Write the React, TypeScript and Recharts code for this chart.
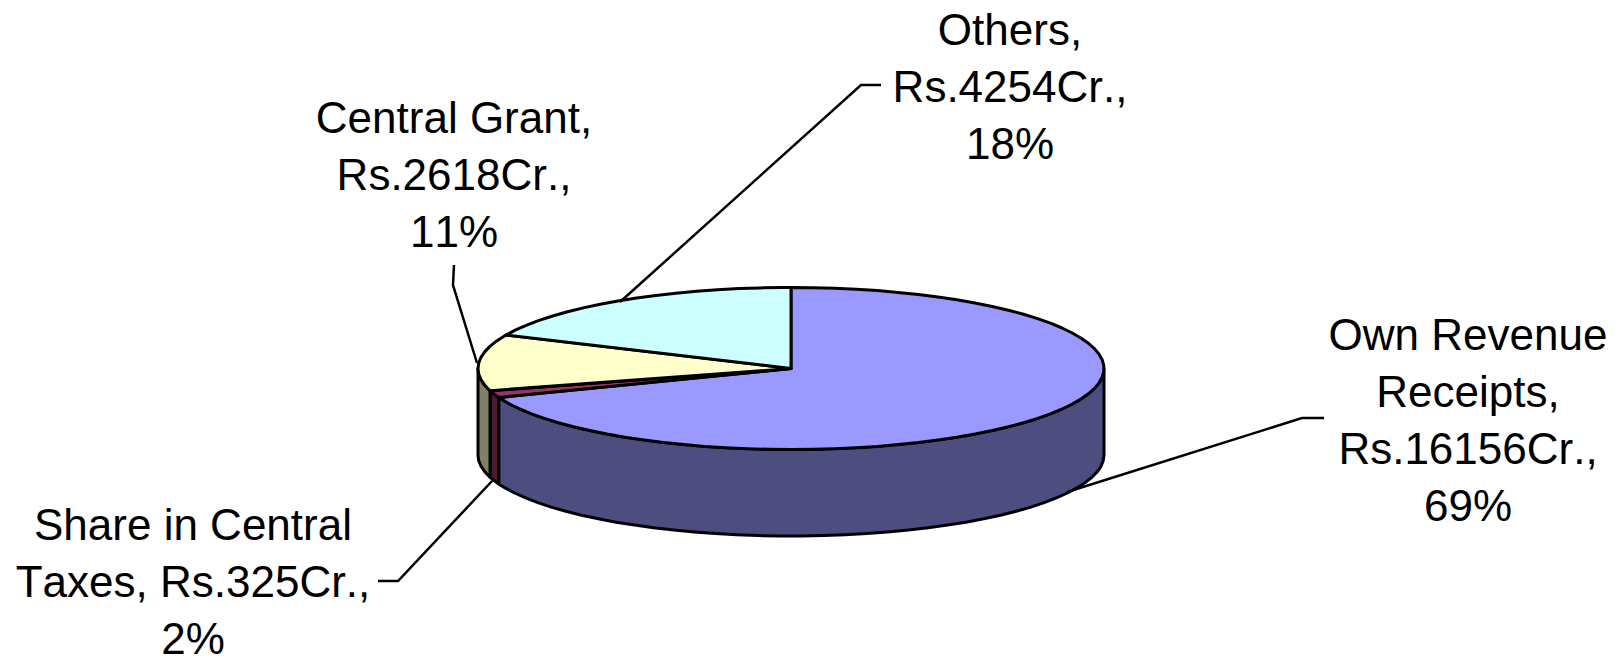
import React from 'react';
import { PieChart, Pie } from 'recharts';

const sliceNames = ['Own Revenue Receipts', 'Share in Central Taxes', 'Central Grant', 'Others'];
const sliceValues = [16156, 325, 2618, 4254];
const topColors = ['#9999FF', '#993366', '#FFFFCC', '#CCFFFF'];
const wallColors = ['#4D4D80', '#4D1A33', '#808066', '#668080'];

const labelLines = [
  ['Own Revenue', 'Receipts,', 'Rs.16156Cr.,', '69%'],
  ['Share in Central', 'Taxes, Rs.325Cr.,', '2%'],
  ['Central Grant,', 'Rs.2618Cr.,', '11%'],
  ['Others,', 'Rs.4254Cr.,', '18%'],
];

// label placement: centre x, first baseline, then the leader polyline
const labelAnchors = [
  { x: 1468, y: 350, leader: '1067,492 1302,418 1324,418' },
  { x: 193, y: 540, leader: '493,480 398,581 378,581' },
  { x: 454, y: 133, leader: '477,363 453,285 454,265' },
  { x: 1010, y: 45, leader: '620,302 861,85 881,85' },
];

const chartData = sliceNames.map((name, i) => ({ name, value: sliceValues[i], fill: topColors[i] }));

const WIDTH = 1619;
const HEIGHT = 658;
const CX = 791;
const CY = 368.5;
const RADIUS = 313;
const TILT = 81 / 313; // squash of the pie disc
const DEPTH = 86.5;
const LINE = 57;
const STEP = 4;

const toRad = (deg: number) => (deg * Math.PI) / 180;

// walk an arc of the squashed disc, from a to b (degrees, going clockwise)
const arcPoints = (cx: number, cy: number, r: number, a: number, b: number) => {
  const pts: [number, number][] = [];
  for (let d = a; d > b; d -= STEP) {
    pts.push([cx + r * Math.cos(toRad(d)), cy - r * TILT * Math.sin(toRad(d))]);
  }
  pts.push([cx + r * Math.cos(toRad(b)), cy - r * TILT * Math.sin(toRad(b))]);
  return pts;
};

const toPath = (pts: [number, number][]) =>
  pts.map((p, i) => `${i === 0 ? 'M' : 'L'}${p[0].toFixed(1)},${p[1].toFixed(1)}`).join(' ') + ' Z';

const TopSlice = (props: any) => {
  const { cx, cy, outerRadius, startAngle, endAngle, fill } = props;
  const pts = [[cx, cy] as [number, number], ...arcPoints(cx, cy, outerRadius, startAngle, endAngle)];
  return <path d={toPath(pts)} fill={fill} stroke="#000" strokeWidth={3} strokeLinejoin="round" />;
};

// only the part of a slice facing the viewer (angles 0 to -180) has a wall
const WallSlice = (props: any) => {
  const { cx, cy, outerRadius, startAngle, endAngle, index } = props;
  const from = Math.min(startAngle, 0);
  const to = Math.max(endAngle, -180);
  if (from <= to) return <g />;
  const upper = arcPoints(cx, cy, outerRadius, from, to);
  const lower = arcPoints(cx, cy + DEPTH, outerRadius, from, to).reverse();
  return (
    <path
      d={toPath([...upper, ...lower])}
      fill={wallColors[index]}
      stroke="#000"
      strokeWidth={3}
      strokeLinejoin="round"
    />
  );
};

const SliceLabel = (props: any) => {
  const { index } = props;
  const anchor = labelAnchors[index];
  return (
    <g>
      <polyline points={anchor.leader} fill="none" stroke="#000" strokeWidth={2.5} />
      <text
        x={anchor.x}
        y={anchor.y}
        textAnchor="middle"
        fontFamily="'Liberation Sans', Arial, sans-serif"
        fontSize={44}
        fill="#000"
        style={{ fontKerning: 'none' }}
      >
        {labelLines[index].map((line, i) => (
          <tspan key={line} x={anchor.x} y={anchor.y + i * LINE}>
            {line}
          </tspan>
        ))}
      </text>
    </g>
  );
};

const App: React.FC = () => (
  <div style={{ position: 'absolute', left: 0, top: 0, width: WIDTH, height: HEIGHT, background: '#fff', overflow: 'hidden' }}>
    <PieChart width={WIDTH} height={HEIGHT} margin={{ top: 0, right: 0, bottom: 0, left: 0 }}>
      <Pie
        data={chartData}
        dataKey="value"
        cx={CX}
        cy={CY}
        outerRadius={RADIUS}
        startAngle={90}
        endAngle={-270}
        shape={WallSlice}
        label={false}
        labelLine={false}
        isAnimationActive={false}
      />
      <Pie
        data={chartData}
        dataKey="value"
        cx={CX}
        cy={CY}
        outerRadius={RADIUS}
        startAngle={90}
        endAngle={-270}
        shape={TopSlice}
        label={SliceLabel}
        labelLine={false}
        isAnimationActive={false}
      />
    </PieChart>
  </div>
);

export default App;
